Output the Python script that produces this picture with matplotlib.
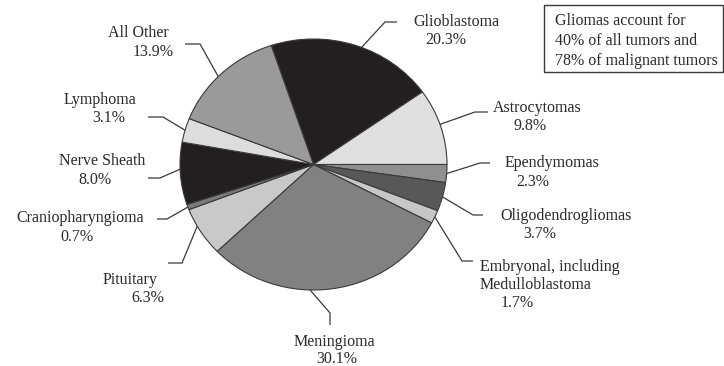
import numpy as np
import matplotlib
matplotlib.use("Agg")
import matplotlib.pyplot as plt
from matplotlib.patches import Rectangle

# ---- data ----
categories = ["Glioblastoma", "Astrocytomas", "Ependymomas", "Oligodendrogliomas",
              "Embryonal, including\nMedulloblastoma", "Meningioma", "Pituitary",
              "Craniopharyngioma", "Nerve Sheath", "Lymphoma", "All Other"]
values = [20.3, 9.8, 2.3, 3.7, 1.7, 30.1, 6.3, 0.7, 8.0, 3.1, 13.9]
note_lines = ["Gliomas account for", "40% of all tumors and", "78% of malignant tumors"]

# ---- style ----
colors = ["#231f20", "#e0e0e2", "#8e8f91", "#58585a", "#c6c7c9", "#818184",
          "#c9c9cb", "#7a7a7c", "#231f20", "#dddddf", "#9a9a9c"]
W, H = 724, 366
PIE_L, PIE_R, PIE_T, PIE_B = 180, 447, 39, 290
FONT = "Liberation Serif"
FS = 11.5
TXT = "#2a2a2a"

# leader layout: (elbow, end), text line centres (x, y) per line
layout = {
    "Glioblastoma": dict(pts=[(385, 22), (397, 22)], lines=[(456, 22), (446, 40)], off=-3),
    "Astrocytomas": dict(pts=[(475, 112), (488, 112)], lines=[(537, 108), (530, 126)], off=1),
    "Ependymomas": dict(pts=[(480, 163), (490, 163)], lines=[(552, 163), (533, 182)], off=0),
    "Oligodendrogliomas": dict(pts=[(473, 215), (483, 215)], lines=[(566, 216), (540, 234)], off=0),
    "Embryonal, including\nMedulloblastoma": dict(pts=[(462, 261), (473, 261)],
                                                  lines=[(550, 267), (536, 285), (517, 303)], off=0),
    "Meningioma": dict(pts=[(330, 313), (330, 325)], lines=[(334, 342), (337, 359)], off=-9.5),
    "Pituitary": dict(pts=[(182, 263), (168, 263)], lines=[(130, 280), (148, 298)], off=-3),
    "Craniopharyngioma": dict(pts=[(167, 219), (157, 219)], lines=[(80, 218), (77, 237)], off=0),
    "Nerve Sheath": dict(pts=[(160, 178), (148, 178)], lines=[(102, 161), (95, 180)], off=-2),
    "Lymphoma": dict(pts=[(163, 117), (148, 117)], lines=[(100, 100), (109, 118)], off=0),
    "All Other": dict(pts=[(200, 44), (185, 44)], lines=[(138, 33), (153, 52)], off=2),
}

fig = plt.figure(figsize=(W / 100, H / 100), dpi=100)
fig.patch.set_facecolor("white")

# overlay axes in pixel coordinates for labels and leaders
ov = fig.add_axes([0, 0, 1, 1])
ov.set_xlim(0, W)
ov.set_ylim(H, 0)
ov.axis("off")

# pie axes
pax = fig.add_axes([PIE_L / W, (H - PIE_B) / H, (PIE_R - PIE_L) / W, (PIE_B - PIE_T) / H])
wedges, _ = pax.pie(values, colors=colors, startangle=sum(values[:2]) / sum(values) * 360,
                    counterclock=False, radius=1.0,
                    wedgeprops=dict(edgecolor="#3a3a3a", linewidth=0.8))
pax.set_aspect("auto")
pax.set_xlim(-1.0, 1.0)
pax.set_ylim(-1.0, 1.0)
pax.axis("off")

cx, cy = (PIE_L + PIE_R) / 2, (PIE_T + PIE_B) / 2
rx, ry = (PIE_R - PIE_L) / 2, (PIE_B - PIE_T) / 2

for w, cat, v in zip(wedges, categories, values):
    lay = layout[cat]
    ang = np.deg2rad((w.theta1 + w.theta2) / 2 + lay["off"])
    ax0, ay0 = cx + rx * np.cos(ang), cy - ry * np.sin(ang)
    xs = [ax0] + [p[0] for p in lay["pts"]]
    ys = [ay0] + [p[1] for p in lay["pts"]]
    ov.plot(xs, ys, color="#3a3a3a", lw=0.9, solid_capstyle="butt")
    texts = cat.split("\n") + [f"{v:.1f}%"]
    for t, (tx, ty) in zip(texts, lay["lines"]):
        ov.text(tx, ty, t, ha="center", va="center", fontsize=FS, family=FONT, color=TXT)

# note box
ov.add_patch(Rectangle((544, 5), 179, 67, fill=False, edgecolor="#3a3a3a", lw=1.0))
for i, line in enumerate(note_lines):
    ov.text(555, 21 + i * 20, line, ha="left", va="center", fontsize=FS, family=FONT, color=TXT)

fig.savefig("out.png", dpi=100, facecolor="white")
